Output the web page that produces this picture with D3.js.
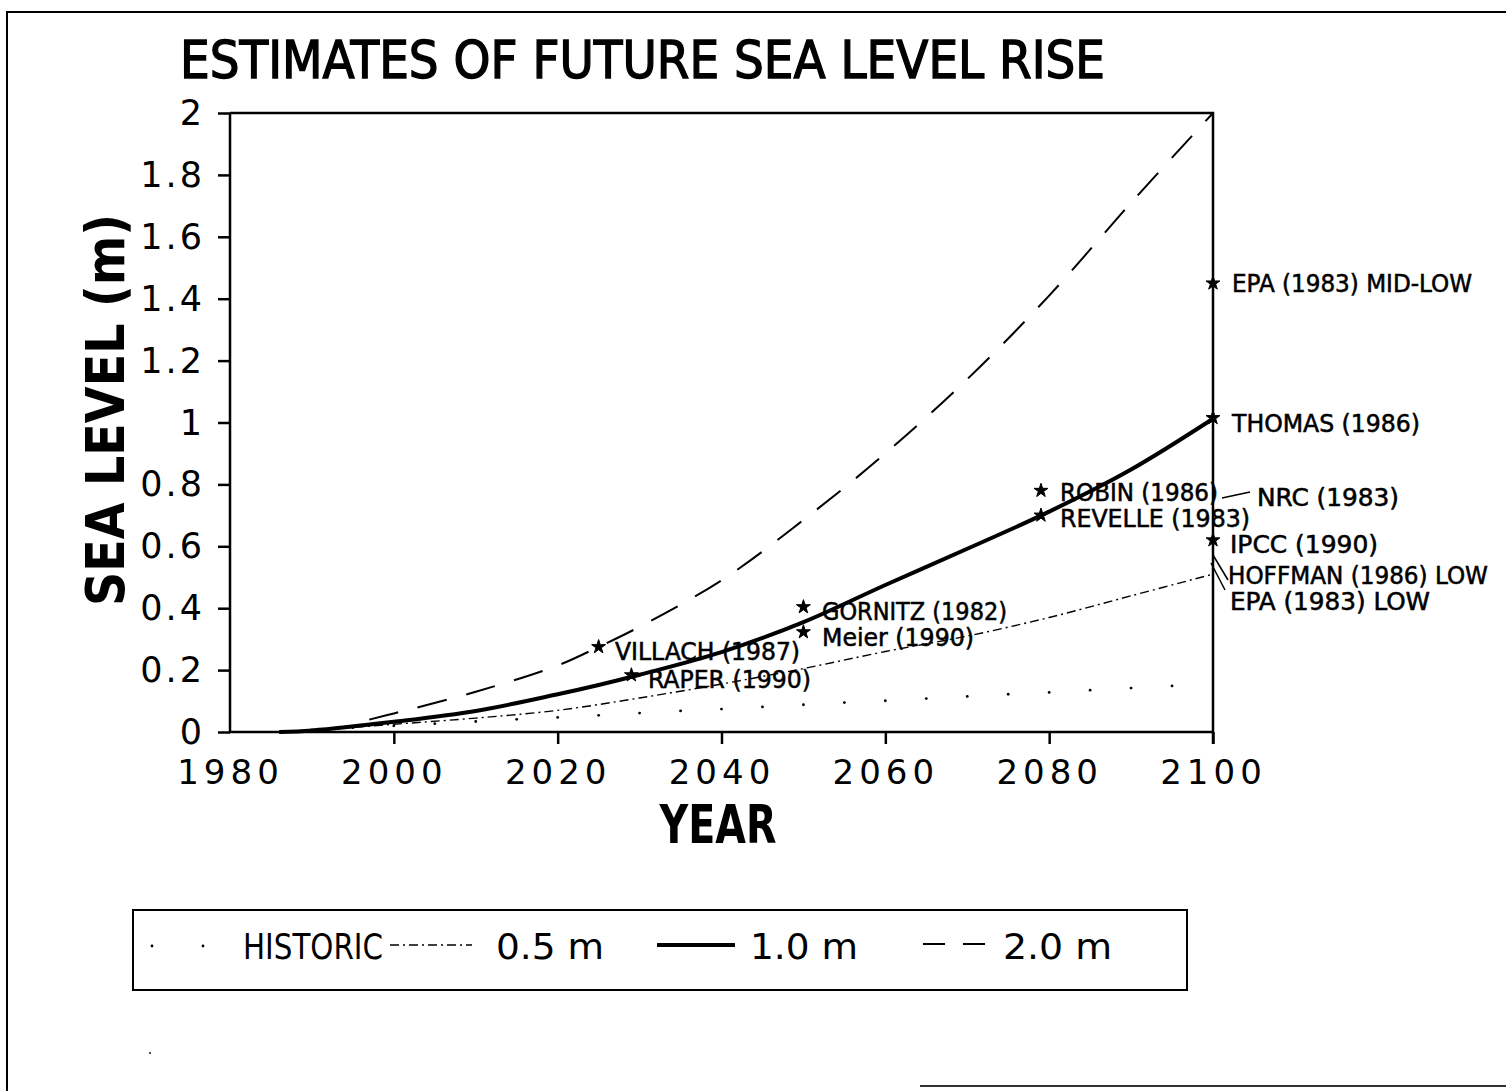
<!DOCTYPE html>
<html><head><meta charset="utf-8">
<script src="https://cdn.jsdelivr.net/npm/d3@7"></script>
<style>
html,body{margin:0;padding:0;background:#fff;}
svg{display:block;}
text{fill:#000;}
</style></head>
<body>
<svg id="chart" width="1506" height="1091"></svg>
<script>
// ---------- data ----------
const title = "ESTIMATES OF FUTURE SEA LEVEL RISE";
const xLabel = "YEAR";
const yLabel = "SEA LEVEL (m)";
const xTicks = [1980, 2000, 2020, 2040, 2060, 2080, 2100];
const yTicks = [0, 0.2, 0.4, 0.6, 0.8, 1, 1.2, 1.4, 1.6, 1.8, 2];

const years2 = [1997, 2000, 2010, 2020, 2025, 2030, 2040, 2050, 2060, 2070, 2080, 2090, 2100];
const scen2m = [0.04, 0.06, 0.13, 0.215, 0.275, 0.34, 0.49, 0.685, 0.90, 1.14, 1.41, 1.71, 2.00];

const years1 = [1986, 1990, 2000, 2010, 2020, 2025, 2030, 2040, 2050, 2060, 2070, 2080, 2090, 2100];
const scen1m = [0, 0.005, 0.033, 0.068, 0.122, 0.152, 0.185, 0.258, 0.355, 0.475, 0.592, 0.712, 0.848, 1.012];

const years05 = [1986, 1990, 2000, 2010, 2020, 2030, 2040, 2050, 2060, 2070, 2080, 2090, 2100];
const scen05m = [0, 0.005, 0.025, 0.045, 0.07, 0.11, 0.155, 0.205, 0.26, 0.31, 0.37, 0.44, 0.51];

const yearsHist = [1990, 1995, 2000, 2005, 2010, 2015, 2020, 2025, 2030, 2035, 2040, 2045, 2050, 2055, 2060, 2065, 2070, 2075, 2080, 2085, 2090, 2095];
const historic = [0.007, 0.014, 0.02, 0.027, 0.034, 0.041, 0.047, 0.054, 0.061, 0.068, 0.074, 0.081, 0.088, 0.095, 0.101, 0.108, 0.115, 0.122, 0.128, 0.135, 0.142, 0.149];

// point estimates
const estNames  = ["VILLACH (1987)", "RAPER (1990)", "GORNITZ (1982)", "Meier (1990)", "ROBIN (1986)", "REVELLE (1983)", "EPA (1983) MID-LOW", "THOMAS (1986)", "IPCC (1990)"];
const estYears  = [2025, 2029, 2050, 2050, 2079, 2079, 2100, 2100, 2100];
const estValues = [0.275, 0.184, 0.404, 0.323, 0.78, 0.70, 1.45, 1.015, 0.62];

// estimates labelled via leader lines at 2100
const leadNames  = ["NRC (1983)", "HOFFMAN (1986) LOW", "EPA (1983) LOW"];
const leadValues = [0.76, 0.58, 0.55];

const legendNames = ["HISTORIC", "0.5 m", "1.0 m", "2.0 m"];

// ---------- drawing ----------
const svg = d3.select("#chart");
const x = d3.scaleLinear().domain([1980, 2100]).range([230, 1213]);
const y = d3.scaleLinear().domain([0, 2]).range([732, 113]);
const FONT = "'Liberation Sans Narrow','DejaVu Sans Condensed','Liberation Sans',sans-serif";
const FONTW = "'DejaVu Sans','Liberation Sans',sans-serif";

function txt(g, s, px, py, size, len, opts = {}) {
  const t = g.append("text").attr("x", px).attr("y", py)
    .attr("font-family", opts.family || FONT)
    .attr("font-size", size)
    .attr("font-weight", opts.weight || "normal")
    .text(s);
  if (opts.anchor) t.attr("text-anchor", opts.anchor);
  if (len) t.attr("textLength", len).attr("lengthAdjust", "spacingAndGlyphs");
  if (opts.transform) t.attr("transform", opts.transform);
  if (opts.stroke) t.attr("stroke", "#000").attr("stroke-width", opts.stroke);
  return t;
}

// outer frame (partial, as scanned)
svg.append("path").attr("d", "M7,1091 L7,12 L1506,12").attr("fill", "none").attr("stroke", "#000").attr("stroke-width", 2);
svg.append("line").attr("x1", 920).attr("x2", 1506).attr("y1", 1086).attr("y2", 1086).attr("stroke", "#000").attr("stroke-width", 2).attr("opacity", 0.8);
svg.append("circle").attr("cx", 150).attr("cy", 1053).attr("r", 0.9).attr("fill", "#000");

// title
txt(svg, title, 180, 78, 52, 925, { stroke: 1.3 });

// axes
const gx = svg.append("g").attr("transform", `translate(0,${y(0)})`)
  .call(d3.axisBottom(x).tickValues(xTicks).tickSize(12).tickFormat(d3.format("d")));
gx.select(".domain").remove();
gx.selectAll("line").attr("stroke", "#000").attr("stroke-width", 2.5);
gx.selectAll("text").attr("font-family", FONTW).attr("font-size", 34).attr("dy", 0)
  .attr("y", 52).attr("letter-spacing", 5).attr("fill", "#000");
gx.selectAll(".tick").filter(d => d === 1980).select("line").remove();

const gy = svg.append("g").attr("transform", `translate(${x(1980)},0)`)
  .call(d3.axisLeft(y).tickValues(yTicks).tickSize(12).tickFormat(d => String(+d.toFixed(1))));
gy.select(".domain").remove();
gy.selectAll("line").attr("stroke", "#000").attr("stroke-width", 2.5);
gy.selectAll("text").attr("font-family", FONTW).attr("font-size", 35).attr("x", -25)
  .attr("dy", "0.33em").attr("letter-spacing", 3).attr("fill", "#000");

// plot frame
svg.append("path")
  .attr("d", `M${x(1980)},${y(2)} L${x(1980)},${y(0)} L${x(2100)},${y(0)} M${x(1980)},${y(2)} L${x(2100)},${y(2)} L${x(2100)},${y(0) + 12}`)
  .attr("fill", "none").attr("stroke", "#000").attr("stroke-width", 2.5);

// axis titles
txt(svg, xLabel, 718, 843, 54, 117, { anchor: "middle", weight: "bold" });
txt(svg, yLabel, 0, 0, 54, 392, { anchor: "middle", weight: "bold", transform: "translate(124,410) rotate(-90)" });

// curves
const line = d3.line().x(d => x(d[0])).y(d => y(d[1])).curve(d3.curveCatmullRom.alpha(0.5));
svg.append("path").datum(d3.zip(years05, scen05m)).attr("d", line)
  .attr("fill", "none").attr("stroke", "#000").attr("stroke-width", 1.4).attr("stroke-dasharray", "9,4,2,4");
svg.append("path").datum(d3.zip(years1, scen1m)).attr("d", line)
  .attr("fill", "none").attr("stroke", "#000").attr("stroke-width", 4);
svg.append("path").datum(d3.zip(years2, scen2m)).attr("d", line)
  .attr("fill", "none").attr("stroke", "#000").attr("stroke-width", 2).attr("stroke-dasharray", "30,20");
svg.append("g").selectAll("circle").data(d3.zip(yearsHist, historic)).join("circle")
  .attr("cx", d => x(d[0])).attr("cy", d => y(d[1])).attr("r", 1.4).attr("fill", "#000");

// estimate markers
const star = d3.symbol().type(d3.symbolStar).size(60);
svg.append("g").selectAll("path").data(d3.zip(estYears, estValues)).join("path")
  .attr("d", star).attr("transform", d => `translate(${x(d[0])},${y(d[1])})`)
  .attr("fill", "#000").attr("stroke", "#000").attr("stroke-width", 1);

// estimate labels
const labelPos = [
  [615, 660, 185], [648, 688, 163], [822, 620, 185], [822, 646, 152],
  [1060, 501, 158], [1060, 527, 190], [1232, 292, 240], [1232, 432, 188], [1230, 553, 148]
];
estNames.forEach((n, i) => {
  const p = labelPos[i];
  txt(svg, n, p[0], p[1], 24, p[2], { stroke: 0.5 });
});

// leader-line labels
const leadText = [[1257, 506, 142], [1228, 584, 260], [1230, 610, 200]];
const leadLines = [[1222, 498, 1250, 492], [1213, 555, 1228, 580], [1211, 563, 1225, 590]];
leadNames.forEach((n, i) => {
  const l = leadLines[i];
  svg.append("line").attr("x1", l[0]).attr("y1", l[1])
    .attr("x2", l[2]).attr("y2", l[3]).attr("stroke", "#000").attr("stroke-width", 1.5)
    .attr("data-value", leadValues[i]);
  const p = leadText[i];
  txt(svg, n, p[0], p[1], 24, p[2], { stroke: 0.5 });
});

// legend
const lg = svg.append("g");
lg.append("rect").attr("x", 133).attr("y", 910).attr("width", 1054).attr("height", 80)
  .attr("fill", "none").attr("stroke", "#000").attr("stroke-width", 2);
lg.append("circle").attr("cx", 152).attr("cy", 946).attr("r", 1.4).attr("fill", "#000");
lg.append("circle").attr("cx", 203).attr("cy", 946).attr("r", 1.4).attr("fill", "#000");
txt(lg, legendNames[0], 243, 959, 36, 140);
lg.append("line").attr("x1", 390).attr("x2", 472).attr("y1", 945).attr("y2", 945)
  .attr("stroke", "#000").attr("stroke-width", 1.4).attr("stroke-dasharray", "9,4,2,4");
txt(lg, legendNames[1], 496, 959, 36, 108, { family: FONTW });
lg.append("line").attr("x1", 657).attr("x2", 735).attr("y1", 945).attr("y2", 945)
  .attr("stroke", "#000").attr("stroke-width", 4);
txt(lg, legendNames[2], 750, 959, 36, 108, { family: FONTW });
lg.append("line").attr("x1", 923).attr("x2", 987).attr("y1", 944).attr("y2", 944)
  .attr("stroke", "#000").attr("stroke-width", 2).attr("stroke-dasharray", "22,18");
txt(lg, legendNames[3], 1003, 959, 36, 109, { family: FONTW });
</script>
</body></html>
